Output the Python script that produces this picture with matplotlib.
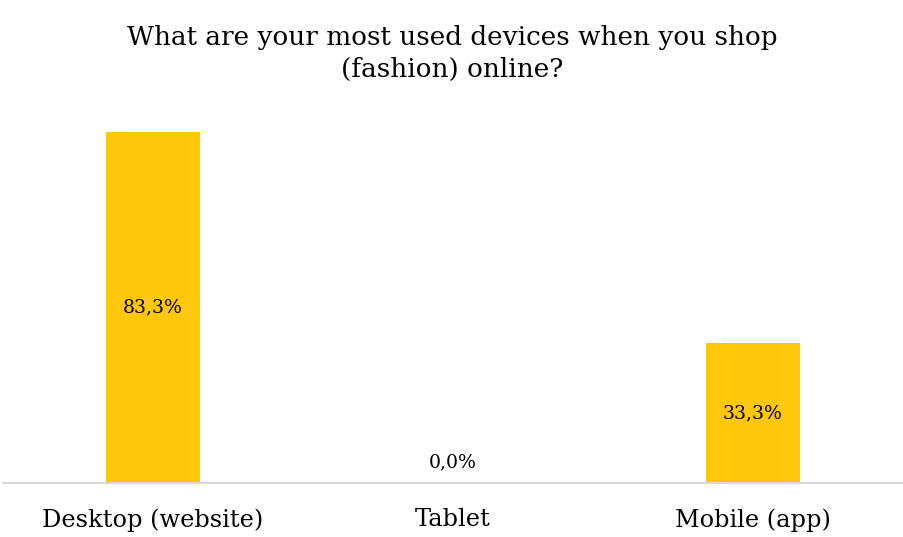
import matplotlib.pyplot as plt

categories = ['Desktop (website)', 'Tablet', 'Mobile (app)']
shares = [83.3, 0.0, 33.3]
value_labels = ['83,3%', '0,0%', '33,3%']

BAR_COLOR = '#FFC709'
FONT = ['DejaVu Serif']

plt.rcParams['font.family'] = FONT

fig = plt.figure(figsize=(9.04, 5.37), dpi=100)
ax = fig.add_axes([3 / 904, 1 - 483 / 537, 900 / 904, (483 - 104) / 537])

x = list(range(len(categories)))
bars = ax.bar(x, shares, width=0.313, color=BAR_COLOR, zorder=2)

# value labels centred in each bar (zero bar gets its label just above the axis)
for xi, v, lab in zip(x, shares, value_labels):
    y = v / 2 if v > 0 else 5
    ax.text(xi, y, lab, ha='center', va='center', fontsize=13.6, color='#000000')

ax.set_xlim(-0.5, 2.5)
ax.set_ylim(0, 90)
ax.set_yticks([])
ax.set_xticks(x)
ax.set_xticklabels(categories, fontsize=17.3)
ax.tick_params(axis='x', length=0, pad=18)

for side in ['top', 'right', 'left']:
    ax.spines[side].set_visible(False)
ax.spines['bottom'].set_color('#D9D9D9')
ax.spines['bottom'].set_linewidth(1.5)

fig.text(0.5, 1 - 38 / 537, 'What are your most used devices when you shop',
         ha='center', va='center', fontsize=18.9)
fig.text(0.5, 1 - 69 / 537, '(fashion) online?',
         ha='center', va='center', fontsize=18.9)

fig.savefig('out.png', dpi=100)
